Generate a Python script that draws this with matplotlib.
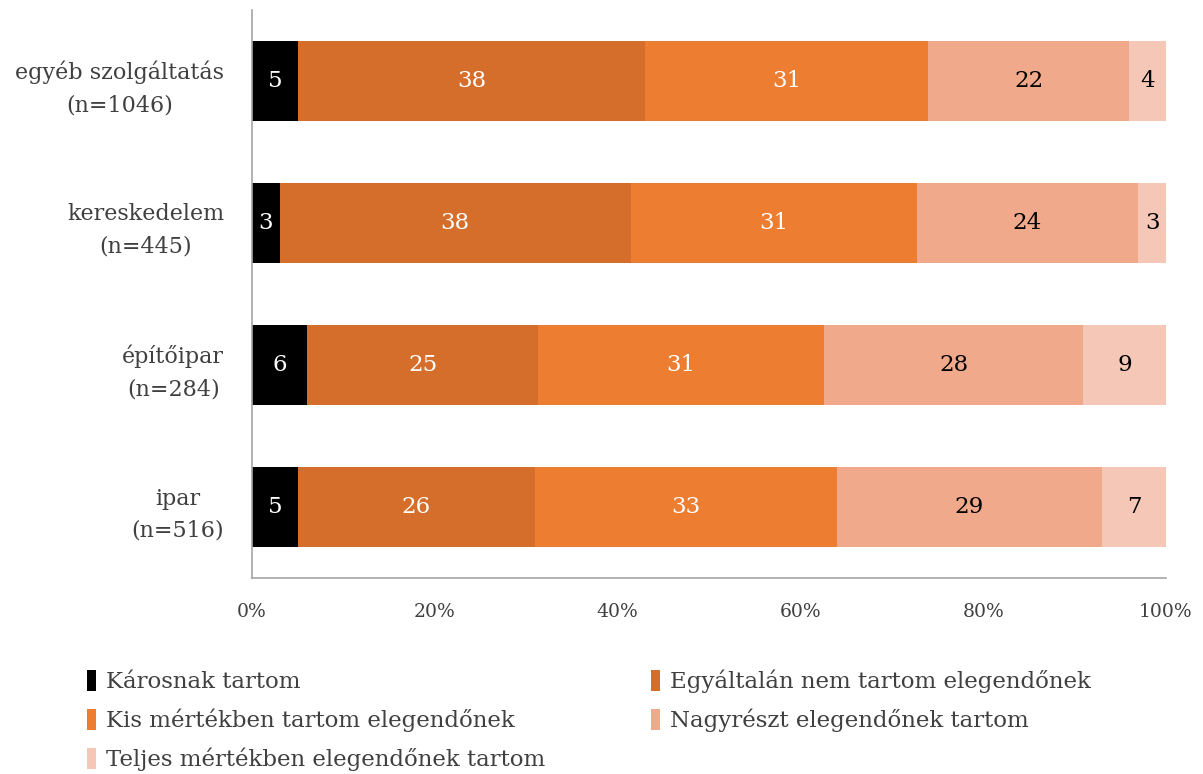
import matplotlib

matplotlib.use("Agg")
import matplotlib.pyplot as plt  # noqa: E402
import numpy as np  # noqa: E402

plt.rcParams["font.family"] = ["DejaVu Serif"]

categories = ["egyéb szolgáltatás\n(n=1046)", "kereskedelem\n(n=445)",
              "építőipar\n(n=284)", "ipar\n(n=516)"]
series = ["Károsnak tartom", "Egyáltalán nem tartom elegendőnek",
          "Kis mértékben tartom elegendőnek", "Nagyrészt elegendőnek tartom",
          "Teljes mértékben elegendőnek tartom"]
# percentages per category, in series order
values = np.array([
    [5, 38, 31, 22, 4],
    [3, 38, 31, 24, 3],
    [6, 25, 31, 28, 9],
    [5, 26, 33, 29, 7],
], dtype=float)
colors = ["#000000", "#D46E2A", "#ED7D31", "#F0A98B", "#F5C7B7"]
text_colors = ["white", "white", "white", "black", "black"]

# 100% stacked: scale each row to its own total
shares = values / values.sum(axis=1, keepdims=True) * 100

fig = plt.figure(figsize=(12.03, 7.74), dpi=100)
ax = fig.add_axes([252 / 1203, 1 - 578 / 774, 914 / 1203, 568 / 774])

ypos = np.arange(len(categories))
left = np.zeros(len(categories))
handles = []
for j, name in enumerate(series):
    bars = ax.barh(ypos, shares[:, j], left=left, height=0.57,
                   color=colors[j], label=name)
    handles.append(bars)
    for i in range(len(categories)):
        ax.text(left[i] + shares[i, j] / 2, ypos[i], f"{values[i, j]:.0f}",
                ha="center", va="center", fontsize=16.5, color=text_colors[j])
    left += shares[:, j]

ax.set_xlim(0, 100)
ax.set_ylim(len(categories) - 0.5, -0.5)
ax.set_yticks(ypos)
ax.set_yticklabels(categories, multialignment="center", fontsize=16,
                   color="#404040", linespacing=1.6)
ax.set_xticks(np.arange(0, 101, 20))
ax.set_xticklabels([f"{t}%" for t in range(0, 101, 20)], fontsize=13.5,
                   color="#404040")
ax.tick_params(axis="both", length=0)
ax.tick_params(axis="x", pad=18)
ax.tick_params(axis="y", pad=20)
for side in ("top", "right"):
    ax.spines[side].set_visible(False)
for side in ("left", "bottom"):
    ax.spines[side].set_color("#A6A6A6")
    ax.spines[side].set_linewidth(1.2)

order = [0, 2, 4, 1, 3]
fig.legend([handles[k] for k in order], [series[k] for k in order],
           loc="upper left", bbox_to_anchor=(66 / 1203, 1 - 649 / 774),
           ncol=2, frameon=False, fontsize=16.5, labelcolor="#404040",
           handlelength=0.4, handleheight=1.0, handletextpad=0.45,
           columnspacing=4.6, labelspacing=0.68)

fig.savefig("out.png", dpi=100)
